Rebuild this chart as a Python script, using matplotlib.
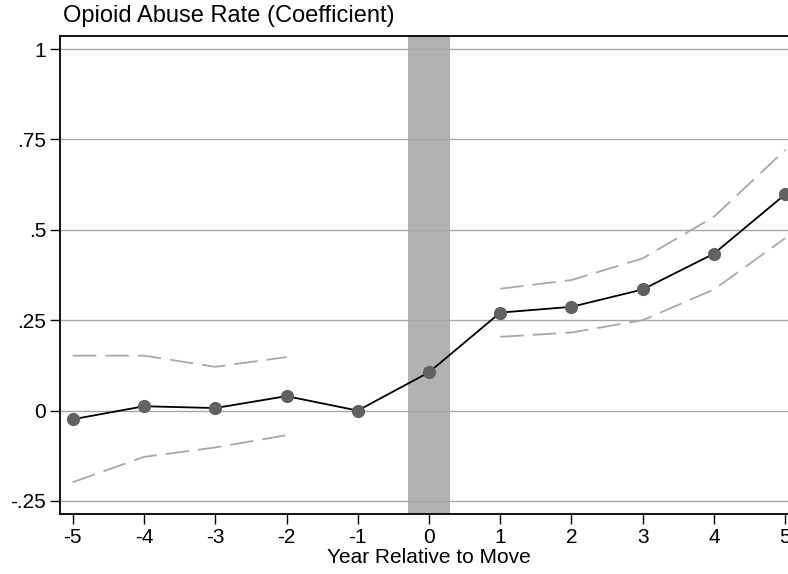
import numpy as np
import matplotlib
matplotlib.use('Agg')
import matplotlib.pyplot as plt

plt.rcParams['font.family'] = ['Liberation Sans', 'DejaVu Sans']

# event-study coefficients
years = [-5, -4, -3, -2, -1, 0, 1, 2, 3, 4, 5]
coef = [-0.024, 0.012, 0.007, 0.040, 0.0, 0.106, 0.271, 0.287, 0.335, 0.434, 0.598]

# confidence bands (drawn separately before / after the move)
pre_years = [-5, -4, -3, -2]
pre_upper = [0.152, 0.152, 0.121, 0.148]
pre_lower = [-0.198, -0.128, -0.102, -0.068]
post_years = [1, 2, 3, 4, 5]
post_upper = [0.337, 0.361, 0.421, 0.536, 0.721]
post_lower = [0.204, 0.216, 0.250, 0.335, 0.477]

yticks = [-0.25, 0, 0.25, 0.5, 0.75, 1]
ytick_labels = ['-.25', '0', '.25', '.5', '.75', '1']

fig = plt.figure(figsize=(7.88, 5.74), dpi=100)
# axes runs a bit past the right edge, like the original export
ax = fig.add_axes([60 / 788, 60 / 574, 738 / 788, 478 / 574])

ax.axvspan(-0.3, 0.3, color='#b2b2b2', lw=0, zorder=1)
for y in yticks:
    ax.axhline(y, color='#a6a6a6', lw=1.0, zorder=2)

dash = (0, (13, 5))
ax.plot(pre_years, pre_upper, color='#a8a8a8', lw=1.3, ls=dash, zorder=3)
ax.plot(pre_years, pre_lower, color='#a8a8a8', lw=1.3, ls=dash, zorder=3)
ax.plot(post_years, post_upper, color='#a8a8a8', lw=1.3, ls=dash, zorder=3)
ax.plot(post_years, post_lower, color='#a8a8a8', lw=1.3, ls=dash, zorder=3)

ax.plot(years, coef, color='black', lw=1.3, zorder=4)
ax.plot(years, coef, 'o', color='#616161', ms=8.5, mec='#616161', zorder=5, clip_on=False)

ax.set_xlim(-5.18, 5.18)
ax.set_ylim(-0.286, 1.036)
ax.set_xticks(years)
ax.set_xticklabels([str(v) for v in years])
ax.set_yticks(yticks)
ax.set_yticklabels(ytick_labels)
ax.tick_params(axis='both', labelsize=15, length=7, width=1, color='black', pad=3)

for side in ['left', 'bottom', 'top']:
    ax.spines[side].set_linewidth(1.3)
    ax.spines[side].set_color('black')
ax.spines['right'].set_visible(False)

ax.set_xlabel('Year Relative to Move', fontsize=15, labelpad=1)
fig.text(63 / 788, 1 - 16 / 574, 'Opioid Abuse Rate (Coefficient)', fontsize=17,
         ha='left', va='center')

fig.savefig('out.png', dpi=100)
